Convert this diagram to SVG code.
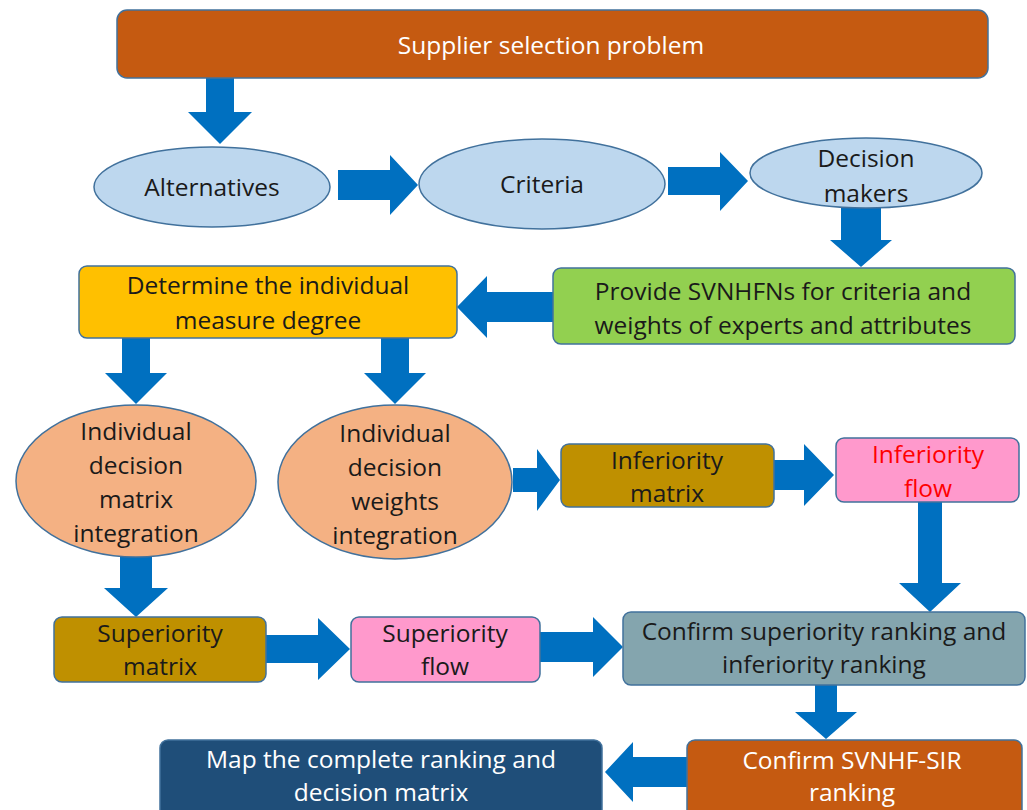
<svg xmlns="http://www.w3.org/2000/svg" width="1027" height="810" viewBox="0 0 1027 810">
<style>
.n{stroke:#41719C;stroke-width:1.5}
.t{font-family:"Open Sans","Liberation Sans",Arial,sans-serif;font-size:24.5px;text-anchor:middle;dominant-baseline:central;fill:#1a1a1a}
.w{fill:#ffffff}
.r{fill:#FF0000}
.a{fill:#0070C0}
</style>
<rect width="1027" height="810" fill="#ffffff"/>
<g id="connectors">
<polygon class="a" points="206,78 234,78 234,112 252,112 220,144 188,112 206,112"/>
<polygon class="a" points="338,170 390,170 390,155 418,185 390,215 390,200 338,200"/>
<polygon class="a" points="668,167 720,167 720,152 748,181 720,211 720,195 668,195"/>
<polygon class="a" points="841,208 881,208 881,240 892,240 861,267 830,240 841,240"/>
<polygon class="a" points="553,292 487,292 487,276 457,307 487,338 487,322 553,322"/>
<polygon class="a" points="122,337 150,337 150,373 167,373 136,404 105,373 122,373"/>
<polygon class="a" points="381,337 409,337 409,373 426,373 395,404 364,373 381,373"/>
<polygon class="a" points="513,468 537,468 537,449 560,480 537,511 537,492 513,492"/>
<polygon class="a" points="774,460 804,460 804,444 834,475 804,506 804,490 774,490"/>
<polygon class="a" points="918,502 942,502 942,583 961,583 930,612 899,583 918,583"/>
<polygon class="a" points="120,557 152,557 152,588 168,588 136,617 104,588 120,588"/>
<polygon class="a" points="266,635 318,635 318,618 350,649 318,680 318,663 266,663"/>
<polygon class="a" points="540,632 593,632 593,617 623,647 593,677 593,662 540,662"/>
<polygon class="a" points="815,685 837,685 837,712 857,712 826,739 795,712 815,712"/>
<polygon class="a" points="687,757 633,757 633,742 605,772 633,802 633,787 687,787"/>
</g>
<g id="supplier">
<rect class="n" x="117" y="10" width="871" height="68" rx="10" fill="#C55A11"/>
<text class="t w" x="551" y="44">Supplier selection problem</text>
</g>
<g id="alternatives">
<ellipse class="n" cx="212" cy="187" rx="118" ry="40" fill="#BDD7EE"/>
<text class="t" x="212" y="186">Alternatives</text>
</g>
<g id="criteria">
<ellipse class="n" cx="542" cy="184" rx="123" ry="45" fill="#BDD7EE"/>
<text class="t" x="542" y="183">Criteria</text>
</g>
<g id="decision-makers">
<ellipse class="n" cx="866" cy="173" rx="116" ry="35" fill="#BDD7EE"/>
<text class="t" x="866" y="157">Decision</text>
<text class="t" x="866" y="192">makers</text>
</g>
<g id="provide">
<rect class="n" x="553" y="268" width="462" height="76" rx="8" fill="#92D050"/>
<text class="t" x="783" y="290">Provide SVNHFNs for criteria and</text>
<text class="t" x="783" y="324">weights of experts and attributes</text>
</g>
<g id="determine">
<rect class="n" x="79" y="266" width="378" height="72" rx="8" fill="#FFC000"/>
<text class="t" x="268" y="284">Determine the individual</text>
<text class="t" x="268" y="319">measure degree</text>
</g>
<g id="matrix-integration">
<ellipse class="n" cx="136" cy="481" rx="120" ry="76" fill="#F4B183"/>
<text class="t" x="136" y="430">Individual</text>
<text class="t" x="136" y="464">decision</text>
<text class="t" x="136" y="498">matrix</text>
<text class="t" x="136" y="532">integration</text>
</g>
<g id="weights-integration">
<ellipse class="n" cx="395" cy="482" rx="117" ry="77" fill="#F4B183"/>
<text class="t" x="395" y="432">Individual</text>
<text class="t" x="395" y="466">decision</text>
<text class="t" x="395" y="500">weights</text>
<text class="t" x="395" y="534">integration</text>
</g>
<g id="inferiority-matrix">
<rect class="n" x="561" y="444" width="213" height="63" rx="8" fill="#BF9000"/>
<text class="t" x="667" y="459">Inferiority</text>
<text class="t" x="667" y="492">matrix</text>
</g>
<g id="inferiority-flow">
<rect class="n" x="836" y="438" width="183" height="64" rx="8" fill="#FF99CC"/>
<text class="t r" x="928" y="453">Inferiority</text>
<text class="t r" x="928" y="487">flow</text>
</g>
<g id="superiority-matrix">
<rect class="n" x="54" y="617" width="212" height="65" rx="8" fill="#BF9000"/>
<text class="t" x="160" y="632">Superiority</text>
<text class="t" x="160" y="665">matrix</text>
</g>
<g id="superiority-flow">
<rect class="n" x="351" y="617" width="189" height="65" rx="8" fill="#FF99CC"/>
<text class="t" x="445" y="632">Superiority</text>
<text class="t" x="445" y="665">flow</text>
</g>
<g id="confirm-ranking">
<rect class="n" x="623" y="612" width="402" height="73" rx="8" fill="#84A5AE"/>
<text class="t" x="824" y="630">Confirm superiority ranking and</text>
<text class="t" x="824" y="663">inferiority ranking</text>
</g>
<g id="confirm-sir">
<rect class="n" x="687" y="740" width="335" height="80" rx="8" fill="#C55A11"/>
<text class="t w" x="852" y="759">Confirm SVNHF-SIR</text>
<text class="t w" x="852" y="791">ranking</text>
</g>
<g id="map">
<rect class="n" x="160" y="740" width="442" height="80" rx="8" fill="#1F4E79"/>
<text class="t w" x="381" y="758">Map the complete ranking and</text>
<text class="t w" x="381" y="791">decision matrix</text>
</g>
</svg>
